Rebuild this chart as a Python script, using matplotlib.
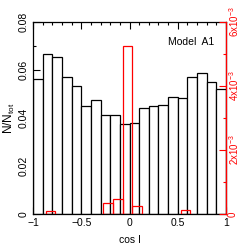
import numpy as np
import matplotlib
matplotlib.use("Agg")
import matplotlib.pyplot as plt
from matplotlib.ticker import MultipleLocator

plt.rcParams['font.family'] = ['Liberation Sans', 'DejaVu Sans']
plt.rcParams['mathtext.fontset'] = 'custom'
plt.rcParams['mathtext.rm'] = 'Liberation Sans'
plt.rcParams['mathtext.it'] = 'Liberation Sans'

# black histogram: 20 bins of width 0.1 from -1 to 1
black_edges = [-1.0, -0.9, -0.8, -0.7, -0.6, -0.5, -0.4, -0.3, -0.2, -0.1,
               0.0, 0.1, 0.2, 0.3, 0.4, 0.5, 0.6, 0.7, 0.8, 0.9, 1.0]
black_vals = [0.0563, 0.0668, 0.0653, 0.0570, 0.0533, 0.0451, 0.0477, 0.0411, 0.0414, 0.0374,
              0.0378, 0.0442, 0.0448, 0.0455, 0.0487, 0.0483, 0.0569, 0.0588, 0.0549, 0.0520]

# red histogram (right axis), nonzero bins only: left edges and values
red_left = [-0.87, -0.27, -0.17, -0.07, 0.03, 0.53]
red_vals = [0.09e-3, 0.34e-3, 0.46e-3, 5.26e-3, 0.24e-3, 0.125e-3]
red_width = 0.1

xticks = [-1, -0.5, 0, 0.5, 1]
xticklabels = ['\u22121', '\u22120.5', '0', '0.5', '1']
lticks = [0, 0.02, 0.04, 0.06, 0.08]
lticklabels = ['0', '0.02', '0.04', '0.06', '0.08']
rticks = [0, 2e-3, 4e-3, 6e-3]
rticklabels = ['0', '2x10$^{-3}$', '4x10$^{-3}$', '6x10$^{-3}$']

fs = 7.5
fig = plt.figure(figsize=(2.4, 2.5), dpi=100)
ax = fig.add_axes([33/240, 1-214/250, (226-33)/240, (214-22)/250])

lefts = np.array(black_edges[:-1])
widths = np.diff(black_edges)
ax.bar(lefts, black_vals, width=widths, align='edge', facecolor='white',
       edgecolor='black', linewidth=0.9, zorder=2)
ax.set_xlim(-1, 1)
ax.set_ylim(0, 0.08)
ax.set_xticks(xticks)
ax.set_xticklabels(xticklabels, fontsize=fs)
ax.xaxis.set_minor_locator(MultipleLocator(0.1))
ax.set_yticks(lticks)
ax.set_yticklabels(lticklabels, fontsize=fs, rotation=90, va='center')
ax.yaxis.set_minor_locator(MultipleLocator(0.01))
ax.tick_params(which='both', direction='in', top=True, right=False, width=0.8)
ax.tick_params(which='major', length=5, pad=3)
ax.tick_params(which='minor', length=2.5)
ax.set_ylabel('N/N$_{\\rm tot}$', fontsize=8.5, labelpad=1)
ax.set_xlabel('cos I', fontsize=fs, labelpad=5)
for s in ax.spines.values():
    s.set_linewidth(0.9)

ax2 = ax.twinx()
ax2.bar(red_left, red_vals, width=red_width, align='edge', facecolor='none',
        edgecolor='red', linewidth=0.9, zorder=3)
ax2.set_ylim(0, 6e-3)
ax2.set_yticks(rticks)
ax2.set_yticklabels(rticklabels, fontsize=7, rotation=90, va='center', color='red')
ax2.yaxis.set_minor_locator(MultipleLocator(1e-3))
ax2.tick_params(which='both', direction='in', colors='red', width=0.8)
ax2.tick_params(which='major', length=5, pad=1)
ax2.tick_params(which='minor', length=2.5)
ax2.spines['right'].set_color('red')
ax2.spines['right'].set_linewidth(0.9)
for k in ['left', 'top', 'bottom']:
    ax2.spines[k].set_visible(False)

ax.text(0.94, 0.895, 'Model  A1', transform=ax.transAxes, ha='right', va='center',
        fontsize=fs, zorder=5)

fig.savefig('out.png', dpi=100)
